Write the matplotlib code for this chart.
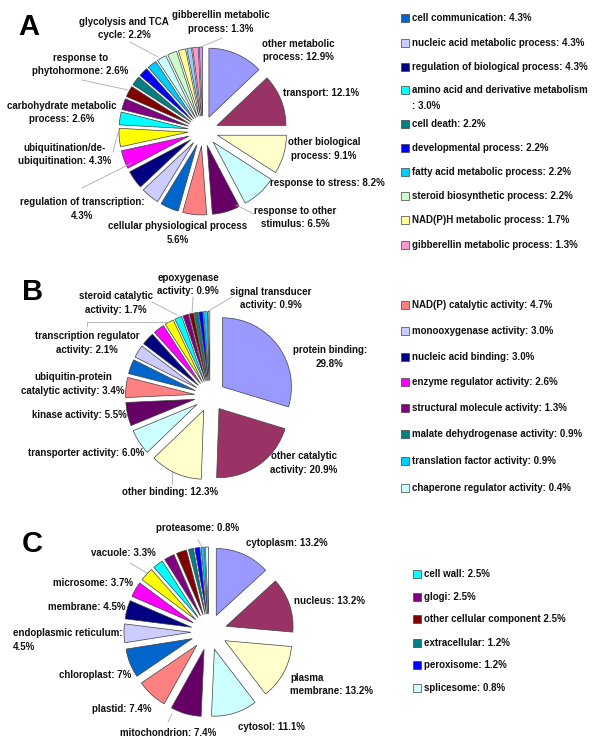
import matplotlib.pyplot as plt
from matplotlib.patches import Rectangle

# A - biological process
bp_names = ['other metabolic process', 'transport', 'other biological process',
            'response to stress', 'response to other stimulus',
            'cellular physiological process', 'cell communication',
            'nucleic acid metabolic process', 'regulation of biological process',
            'regulation of transcription', 'ubiquitination/de-ubiquitination',
            'amino acid and derivative metabolism', 'carbohydrate metabolic process',
            'response to phytohormone', 'cell death', 'developmental process',
            'fatty acid metabolic process', 'glycolysis and TCA cycle',
            'steroid biosynthetic process', 'NAD(P)H metabolic process',
            '', 'gibberellin metabolic process', '']   # two slices carry no label
bp_pct = ['12.9', '12.1', '9.1', '8.2', '6.5', '5.6', '4.3', '4.3', '4.3', '4.3',
          '4.3', '3.0', '2.6', '2.6', '2.2', '2.2', '2.2', '2.2', '2.2', '1.7',
          '1.1', '1.3', '0.8']

# B - molecular function
mf_names = ['protein binding', 'other catalytic activity', 'other binding',
            'transporter activity', 'kinase activity', 'NAD(P) catalytic activity',
            'ubiquitin-protein catalytic activity', 'monooxygenase activity',
            'nucleic acid binding', 'enzyme regulator activity',
            'transcription regulator activity', 'steroid catalytic activity',
            'structural molecule activity', 'epoxygenase activity',
            'malate dehydrogenase activity', 'signal transducer activity',
            'translation factor activity', 'chaperone regulator activity']
mf_pct = ['29.8', '20.9', '12.3', '6.0', '5.5', '4.7', '3.4', '3.0', '3.0', '2.6',
          '2.1', '1.7', '1.3', '0.9', '0.9', '0.9', '0.9', '0.4']

# C - cellular component
cc_names = ['cytoplasm', 'nucleus', 'plasma membrane', 'cytosol', 'mitochondrion',
            'plastid', 'chloroplast', 'endoplasmic reticulum', 'membrane',
            'microsome', 'vacuole', 'cell wall', 'glogi', 'other cellular component',
            'extracellular', 'peroxisome', 'proteasome', 'splicesome']
cc_pct = ['13.2', '13.2', '13.2', '11.1', '7.4', '7.4', '7', '4.5', '4.5', '3.7',
          '3.3', '2.5', '2.5', '2.5', '1.2', '1.2', '0.8', '0.8']

# excel style palette
pal = ['#9999FF', '#993366', '#FFFFCC', '#CCFFFF', '#660066', '#FF8080', '#0066CC',
       '#CCCCFF', '#000080', '#FF00FF', '#FFFF00', '#00FFFF', '#800080', '#800000',
       '#008080', '#0000FF', '#00CCFF', '#CCFFFF', '#CCFFCC', '#FFFF99', '#99CCFF',
       '#FF99CC', '#CC99FF']

H = 746
plt.rcParams['font.family'] = ['Liberation Sans', 'DejaVu Sans']

fig = plt.figure(figsize=(6, 7.46), dpi=100)
ax = fig.add_axes([0, 0, 1, 1])

# (center x, center y, radius, explode) all in pixels
pies = [
    (bp_pct, 203, 131, 69, 15),
    (mf_pct, 210, 396, 69, 15.5),
    (cc_pct, 209, 632, 67, 18),
]
for pct, cx, cy, r, ex in pies:
    vals = [float(p) for p in pct]
    ax.pie(vals, colors=pal[:len(vals)], startangle=90, counterclock=False,
           explode=[ex] * len(vals), center=(cx, H - cy), radius=r,
           wedgeprops=dict(edgecolor='#404040', linewidth=0.5))

# slice labels: (index, x, y, text, ha)
labels_a = [
    (0, 298, 50.5, 'other metabolic\nprocess: {}%', 'center'),
    (1, 321, 93, 'transport: {}%', 'center'),
    (2, 324, 149, 'other biological\nprocess: {}%', 'center'),
    (3, 327, 183, 'response to stress: {}%', 'center'),
    (4, 295, 217.5, 'response to other\nstimulus: {}%', 'center'),
    (5, 178, 233, 'cellular physiological process\n{}%', 'center'),
    (9, 82, 209, 'regulation of transcription:\n{}%', 'center'),
    (10, 65, 154.5, 'ubiquitination/de-\nubiquitination: {}%', 'center'),
    (12, 62, 112.5, 'carbohydrate metabolic\nprocess: {}%', 'center'),
    (13, 80.5, 64.5, 'response to\nphytohormone: {}%', 'center'),
    (17, 124, 28.4, 'glycolysis and TCA\ncycle: {}%', 'center'),
    (21, 221, 22, 'gibberellin metabolic\nprocess: {}%', 'center'),
]
labels_b = [
    (0, 330, 357, 'protein binding:\n{}%', 'center'),
    (1, 304, 463, 'other catalytic\nactivity: {}%', 'center'),
    (2, 170, 492, 'other binding: {}%', 'center'),
    (3, 86, 453, 'transporter activity: {}%', 'center'),
    (4, 79, 415, 'kinase activity: {}%', 'center'),
    (6, 73, 384, 'ubiquitin-protein\ncatalytic activity: {}%', 'center'),
    (10, 87, 343, 'transcription regulator\nactivity: {}%', 'center'),
    (11, 116, 303, 'steroid catalytic\nactivity: {}%', 'center'),
    (13, 188, 284.5, 'epoxygenase\nactivity: {}%', 'center'),
    (15, 271, 298.5, 'signal transducer\nactivity: {}%', 'center'),
]
labels_c = [
    (0, 287, 543, 'cytoplasm: {}%', 'center'),
    (1, 330, 601, 'nucleus: {}%', 'center'),
    (2, 290, 684.5, 'plasma\nmembrane: {}%', 'left'),
    (3, 271, 727, 'cytosol: {}%', 'center'),
    (4, 168, 733, 'mitochondrion: {}%', 'center'),
    (5, 122, 709, 'plastid: {}%', 'center'),
    (6, 95, 675, 'chloroplast: {}%', 'center'),
    (7, 13, 640, 'endoplasmic reticulum:\n{}%', 'left'),
    (8, 87, 607, 'membrane: {}%', 'center'),
    (9, 93, 583, 'microsome: {}%', 'center'),
    (10, 123, 553, 'vacuole: {}%', 'center'),
    (16, 198, 528, 'proteasome: {}%', 'center'),
]
for pct, labs in [(bp_pct, labels_a), (mf_pct, labels_b), (cc_pct, labels_c)]:
    for i, x, y, txt, ha in labs:
        ax.text(x, H - y, txt.format(pct[i]), ha=ha, va='center', multialignment=ha,
                fontsize=7, fontweight='bold', linespacing=1.45, color='#111111')

# leader lines
leaders = [
    [(130, 42), (158, 57)], [(201, 47), (222, 38)], [(82, 80), (128, 90)],
    [(113, 152), (118, 133)], [(82, 188), (132, 163)], [(236, 205), (254, 214)],
    [(193, 297), (192, 313)], [(232, 297), (205, 313)], [(152, 302), (177, 315)],
    [(87, 326), (87, 322), (168, 322)], [(172, 484), (172, 472)],
    [(198, 540), (202, 547)], [(130, 563), (147, 573)], [(168, 722), (172, 714)],
]
for pts in leaders:
    ax.plot([p[0] for p in pts], [H - p[1] for p in pts], color='#aaaaaa', lw=0.6)

# legends: (names, pct, slice indices, square x, row y list)
legends = [
    (bp_names, bp_pct, [6, 7, 8, 11, 14, 15, 16, 18, 19, 21], 401,
     [18.3, 42.7, 66.7, 90, 124.3, 148.3, 172.3, 196, 220, 245]),
    (mf_names, mf_pct, [5, 7, 8, 9, 12, 14, 16, 17], 401,
     [305, 331, 356.7, 382.3, 408.3, 434.3, 460.7, 488.3]),
    (cc_names, cc_pct, [11, 12, 13, 14, 15, 17], 413,
     [574.3, 596.7, 619.3, 642.7, 665, 687.7]),
]
for names, pct, idx, sx, rows in legends:
    for i, y in zip(idx, rows):
        ax.add_patch(Rectangle((sx, H - y - 4), 8, 8, facecolor=pal[i],
                               edgecolor='#404040', lw=0.5))
        if names[i] == 'amino acid and derivative metabolism':
            lines = [names[i], ': ' + pct[i] + '%']
        elif names[i] == 'other cellular component':
            lines = [names[i] + ' ' + pct[i] + '%']
        else:
            lines = [names[i] + ': ' + pct[i] + '%']
        for j, ln in enumerate(lines):
            ax.text(sx + 11, H - y - 16 * j, ln, ha='left', va='center',
                    fontsize=7, fontweight='bold', color='#111111')

# panel letters
for letter, x, y in [('A', 28.5, 35), ('B', 32.5, 300), ('C', 32, 552)]:
    ax.text(x, H - y, letter, ha='center', va='baseline', fontsize=21,
            fontweight='bold', color='black')

ax.set_xlim(0, 600)
ax.set_ylim(0, H)
ax.axis('off')
fig.savefig('out.png', dpi=100, facecolor='white')
